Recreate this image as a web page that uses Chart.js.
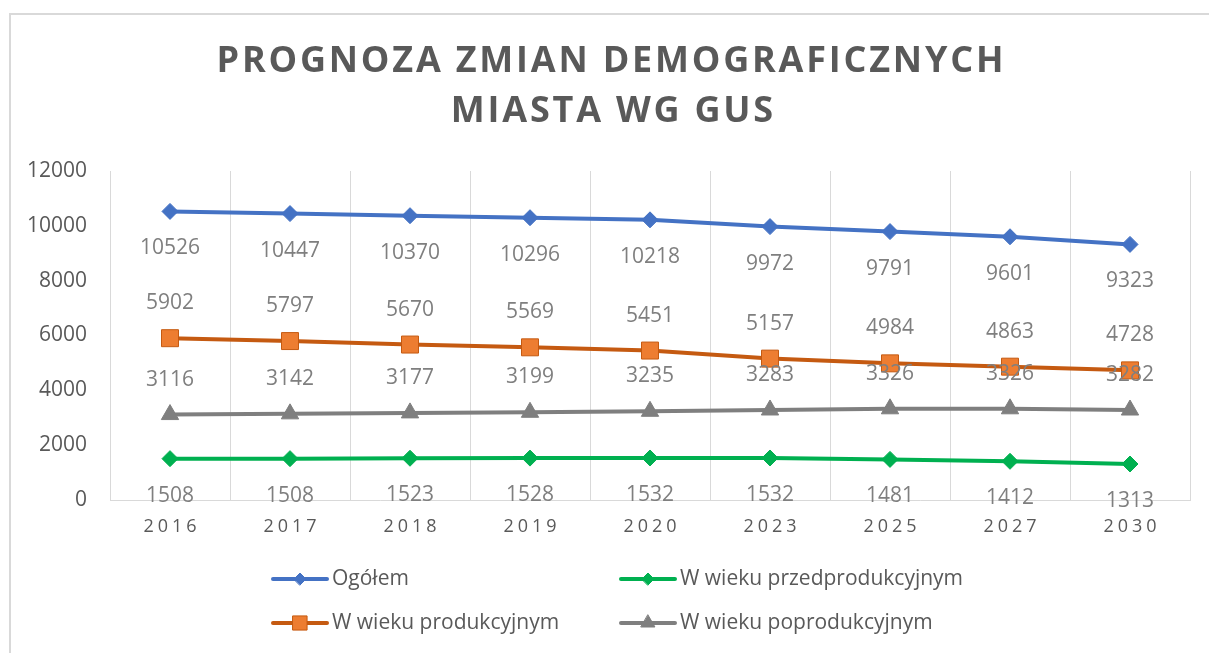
<!DOCTYPE html>
<html>
<head>
<meta charset="utf-8">
<script src="https://cdn.jsdelivr.net/npm/chart.js@4/dist/chart.umd.min.js"></script>
<style>
  html, body { margin: 0; padding: 0; background: #fff; }
  canvas { display: block; }
</style>
</head>
<body>
<canvas id="chart" width="1209" height="653"></canvas>
<script>
// data
const years = ["2016", "2017", "2018", "2019", "2020", "2023", "2025", "2027", "2030"];
const ogolem = [10526, 10447, 10370, 10296, 10218, 9972, 9791, 9601, 9323];
const przedprodukcyjny = [1508, 1508, 1523, 1528, 1532, 1532, 1481, 1412, 1313];
const produkcyjny = [5902, 5797, 5670, 5569, 5451, 5157, 4984, 4863, 4728];
const poprodukcyjny = [3116, 3142, 3177, 3199, 3235, 3283, 3326, 3326, 3282];
const titleLines = ["PROGNOZA ZMIAN DEMOGRAFICZNYCH", "MIASTA WG GUS"];
const yMax = 12000;
const yStep = 2000;

const FONT = "'Open Sans', 'Noto Sans', sans-serif";
const TEXT = "#595959";
const LABEL = "#7f7f7f";
const GRID = "#d9d9d9";

// legend is a 2x2 grid, label offset is where the value sits relative to the point
const series = [
  { label: "Ogółem", data: ogolem, color: "#4472c4", fill: "#4472c4", style: "rectRot", radius: 8, legendRadius: 6, labelOffset: 37, col: 0, row: 0 },
  { label: "W wieku przedprodukcyjnym", data: przedprodukcyjny, color: "#00b050", fill: "#00b050", style: "rectRot", radius: 8, legendRadius: 6, labelOffset: 37, col: 1, row: 0 },
  { label: "W wieku produkcyjnym", data: produkcyjny, color: "#c55a11", fill: "#ed7d31", style: "rect", radius: 12, legendRadius: 10, labelOffset: -35, col: 0, row: 1 },
  { label: "W wieku poprodukcyjnym", data: poprodukcyjny, color: "#7f7f7f", fill: "#7f7f7f", style: "triangle", radius: 10, legendRadius: 8, labelOffset: -35, col: 1, row: 1 }
];

const decorPlugin = {
  id: "decor",
  beforeDraw(chart) {
    const ctx = chart.ctx;
    ctx.save();
    ctx.fillStyle = "#fff";
    ctx.fillRect(0, 0, chart.width, chart.height);
    ctx.strokeStyle = GRID;
    ctx.lineWidth = 2;
    ctx.strokeRect(10, 14, chart.width + 20, chart.height + 20);

    // title, spread out to the width of the original
    ctx.fillStyle = TEXT;
    ctx.textAlign = "center";
    ctx.textBaseline = "middle";
    ctx.font = "bold 36px " + FONT;
    ctx.letterSpacing = "0px";
    const natural = ctx.measureText(titleLines[0]).width;
    const spacing = Math.max(0, (787 - natural) / (titleLines[0].length - 1));
    ctx.letterSpacing = spacing.toFixed(2) + "px";
    ctx.fillText(titleLines[0], 610 + spacing / 2, 62);
    ctx.fillText(titleLines[1], 612 + spacing / 2, 112);
    ctx.restore();
  },
  afterDraw(chart) {
    const ctx = chart.ctx;
    const xs = chart.scales.x;
    ctx.save();

    // x tick labels with letter spacing
    ctx.fillStyle = TEXT;
    ctx.font = "18px " + FONT;
    ctx.textAlign = "center";
    ctx.textBaseline = "middle";
    ctx.letterSpacing = "4px";
    years.forEach((y, i) => ctx.fillText(y, xs.getPixelForValue(i) + 2, 527));
    ctx.letterSpacing = "0px";

    // value labels
    ctx.fillStyle = LABEL;
    ctx.font = "21px " + FONT;
    series.forEach((s, di) => {
      chart.getDatasetMeta(di).data.forEach((p, i) => {
        ctx.fillText(String(s.data[i]), p.x, p.y + s.labelOffset);
      });
    });

    // legend
    const colX = [273, 621];
    const rowY = [579, 623];
    ctx.textAlign = "left";
    ctx.font = "21px " + FONT;
    series.forEach(s => {
      const x = colX[s.col], y = rowY[s.row];
      ctx.strokeStyle = s.color;
      ctx.lineWidth = 4;
      ctx.lineCap = "round";
      ctx.beginPath();
      ctx.moveTo(x, y);
      ctx.lineTo(x + 54, y);
      ctx.stroke();
      ctx.fillStyle = s.fill;
      ctx.lineWidth = 1;
      Chart.helpers.drawPoint(ctx, { pointStyle: s.style, radius: s.legendRadius, rotation: 0, borderWidth: 1 }, x + 27, y);
      ctx.fillStyle = TEXT;
      ctx.fillText(s.label, x + 59, y);
    });
    ctx.restore();
  }
};

new Chart(document.getElementById("chart"), {
  type: "line",
  data: {
    labels: years,
    datasets: series.map(s => ({
      label: s.label,
      data: s.data,
      borderColor: s.color,
      backgroundColor: s.fill,
      borderWidth: 4,
      pointStyle: s.style,
      pointRadius: s.radius,
      pointHoverRadius: s.radius,
      pointBackgroundColor: s.fill,
      pointBorderColor: s.color,
      pointBorderWidth: 1,
      tension: 0,
      fill: false
    }))
  },
  options: {
    responsive: false,
    devicePixelRatio: 1,
    animation: false,
    layout: { padding: { top: 171, left: 0, right: 19, bottom: 113 } },
    plugins: {
      legend: { display: false },
      title: { display: false },
      tooltip: { enabled: false }
    },
    scales: {
      x: {
        offset: true,
        grid: { offset: true, color: GRID, lineWidth: 1, drawTicks: false },
        border: { color: GRID, width: 1 },
        ticks: { display: false },
        afterFit(s) { s.height = 40; }
      },
      y: {
        min: 0,
        max: yMax,
        grid: { display: false },
        border: { display: false },
        ticks: {
          stepSize: yStep,
          color: TEXT,
          font: { size: 21, family: FONT },
          padding: 15,
          callback: v => String(v)
        },
        afterFit(s) { s.width = 110; }
      }
    }
  },
  plugins: [decorPlugin]
});
</script>
</body>
</html>
